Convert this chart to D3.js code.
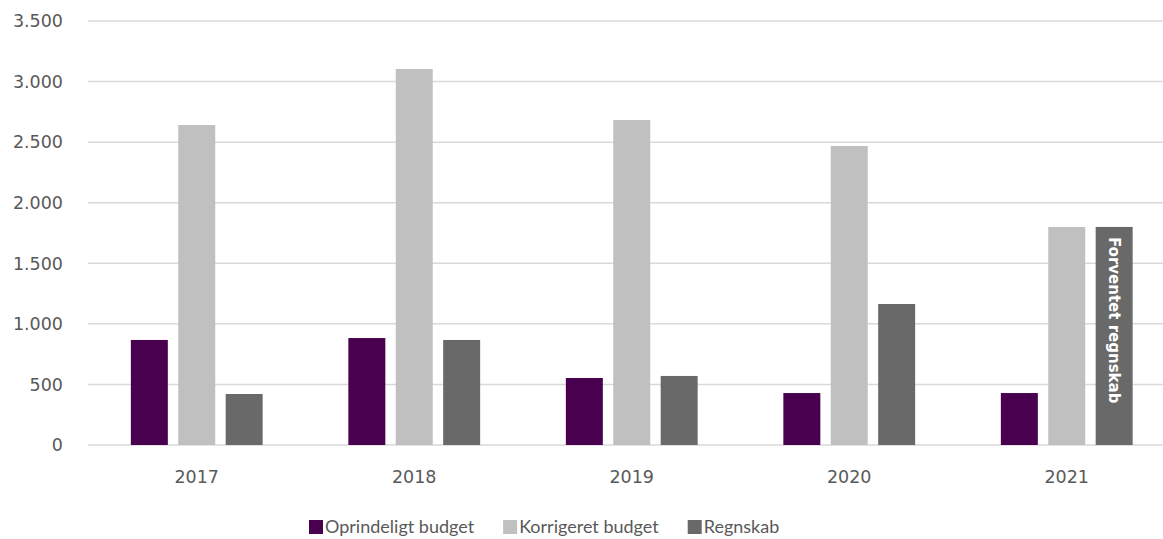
<!DOCTYPE html>
<html lang="da">
<head>
  <meta charset="utf-8">
  <title>Budget og regnskab</title>
  <script src="https://d3js.org/d3.v7.min.js"></script>
  <style type="text/css">
    body { margin: 0; background: #fff; }
  </style>
</head>
<body>
  <script type="text/javascript">

const years = ["2017", "2018", "2019", "2020", "2021"];
const seriesNames = ["Oprindeligt budget", "Korrigeret budget", "Regnskab"];
const oprindeligt = [867, 883, 553, 429, 429];
const korrigeret = [2641, 3104, 2683, 2468, 1800];
const regnskab = [421, 867, 570, 1164, 1800];
const yTicks = [0, 500, 1000, 1500, 2000, 2500, 3000, 3500];
const colors = ["#48004f", "#c0c0c0", "#696969"];

const svgWidth = 1163;
const svgHeight = 539;

const svg = d3.select("body")
    .append("svg")
    .attr("width", svgWidth)
    .attr("height", svgHeight);

const x0 = d3.scaleBand()
    .domain(years)
    .range([88, 1175.5])
    .padding(0);

const x1 = d3.scaleBand()
    .domain(seriesNames)
    .range([x0.bandwidth() * 0.197, x0.bandwidth() * 0.803])
    .paddingInner(0.22);

const yScale = d3.scaleLinear()
    .domain([0, 3500])
    .range([445, 21]);

// gridlines
svg.append("g")
    .selectAll("line")
    .data(yTicks)
    .enter()
    .append("line")
    .attr("x1", 88)
    .attr("x2", svgWidth)
    .attr("y1", d => yScale(d))
    .attr("y2", d => yScale(d))
    .attr("stroke", "#d9d9d9")
    .attr("stroke-width", 1.5);

// y tick labels
const fmt = d => d3.format(",")(d).replace(/,/g, ".");
svg.append("g")
    .selectAll("text")
    .data(yTicks)
    .enter()
    .append("text")
    .attr("x", 63)
    .attr("y", d => yScale(d))
    .attr("dy", "0.36em")
    .attr("text-anchor", "end")
    .style("font-family", "DejaVu Sans")
    .style("font-size", "17.5px")
    .style("fill", "#595959")
    .text(fmt);

// x labels
svg.append("g")
    .selectAll("text")
    .data(years)
    .enter()
    .append("text")
    .attr("x", d => x0(d) + x0.bandwidth() / 2)
    .attr("y", 477)
    .attr("dy", "0.36em")
    .attr("text-anchor", "middle")
    .style("font-family", "DejaVu Sans")
    .style("font-size", "17.5px")
    .style("fill", "#595959")
    .text(d => d);

const rows = years.map((yr, i) => ({
  year: yr,
  values: [oprindeligt[i], korrigeret[i], regnskab[i]]
}));

const groups = svg.append("g")
    .selectAll("g")
    .data(rows)
    .enter()
    .append("g")
    .attr("transform", d => `translate(${x0(d.year)},0)`);

groups.selectAll("rect")
    .data(d => d.values.map((v, j) => ({ key: seriesNames[j], value: v, idx: j })))
    .enter()
    .append("rect")
    .attr("x", d => x1(d.key))
    .attr("width", x1.bandwidth())
    .attr("y", d => yScale(d.value))
    .attr("height", d => yScale(0) - yScale(d.value))
    .attr("fill", d => colors[d.idx]);

// label inside the 2021 Regnskab bar
const lastYear = years[years.length - 1];
const lx = x0(lastYear) + x1("Regnskab") + x1.bandwidth() / 2;
const ly = yScale(regnskab[regnskab.length - 1]) + 10;
svg.append("text")
    .attr("transform", `translate(${lx}, ${ly}) rotate(90)`)
    .attr("dy", "0.36em")
    .attr("text-anchor", "start")
    .style("font-family", "DejaVu Sans")
    .style("font-weight", "bold")
    .style("font-size", "15px")
    .style("fill", "#ffffff")
    .text("Forventet regnskab");

// legend
const legend = svg.append("g");
const items = legend.selectAll("g")
    .data(seriesNames)
    .enter()
    .append("g");

items.append("rect")
    .attr("width", 14)
    .attr("height", 14)
    .attr("y", -7)
    .attr("fill", (d, i) => colors[i]);

items.append("text")
    .attr("x", 16)
    .attr("dy", "0.36em")
    .style("font-family", "Lato")
    .style("font-size", "18px")
    .style("fill", "#595959")
    .text(d => d);

let widths = [];
items.each(function() {
  widths.push(16 + d3.select(this).select("text").node().getComputedTextLength());
});
const gap = 29;
let cur = 309;
items.attr("transform", (d, i) => {
  const t = `translate(${cur}, 527)`;
  cur += widths[i] + gap;
  return t;
});

  </script>
</body>
</html>
